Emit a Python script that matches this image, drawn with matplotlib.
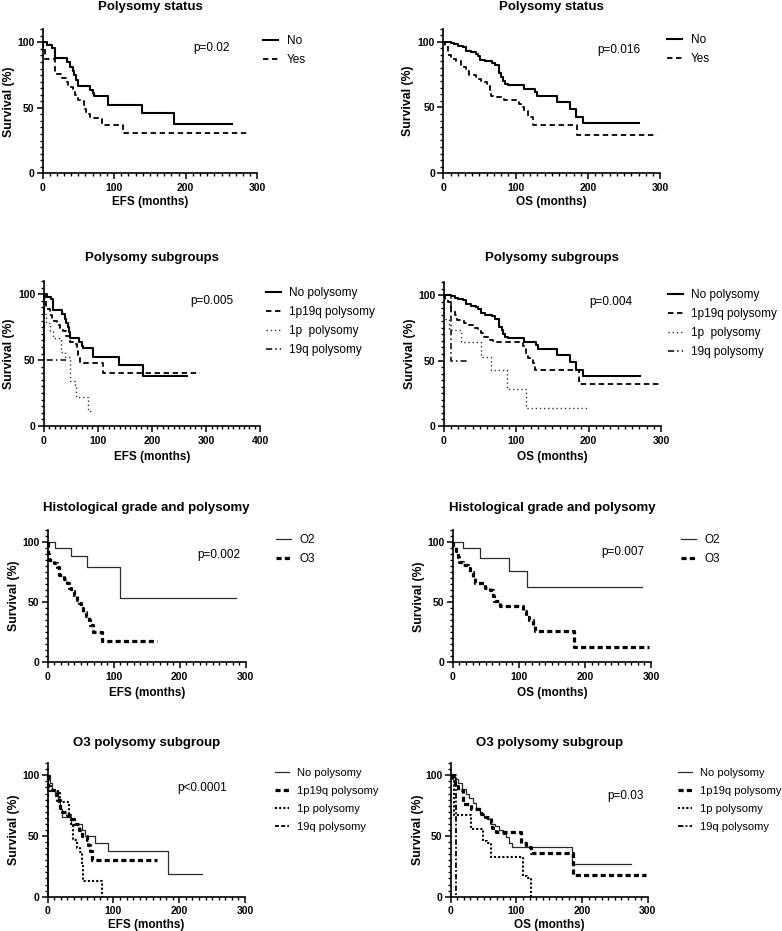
import matplotlib
matplotlib.use("Agg")
import matplotlib.pyplot as plt
from matplotlib.ticker import MultipleLocator

plt.rcParams['font.family'] = ['Liberation Sans', 'DejaVu Sans']

W, H = 782, 931

# ---------- data (months, survival %) ----------
# Polysomy status, EFS
efs_no_t = [0, 6, 13, 18, 34, 39, 42, 44, 47, 49, 66, 70, 72, 91, 139, 183]
efs_no_s = [100, 98, 96, 88, 85, 81, 78, 75, 71, 67, 64, 61, 59, 52, 46, 38]
efs_no_end = 264
efs_yes_t = [0, 1, 4, 18, 27, 34, 36, 42, 46, 49, 58, 61, 67, 83, 112]
efs_yes_s = [100, 95, 87, 76, 73, 70, 66, 63, 60, 56, 49, 45, 42, 37, 31]
efs_yes_end = 287

# Polysomy status, OS
os_no_t = [0, 10, 15, 20, 27, 31, 38, 45, 48, 51, 57, 67, 71, 77, 80, 82, 85, 89,
           111, 127, 130, 157, 175, 183, 193]
os_no_s = [100, 99, 98, 97, 96, 93, 92, 91, 89, 86, 85, 84, 82, 76, 73, 70, 68, 67,
           64, 62, 59, 54, 49, 43, 38]
os_no_end = 271
os_yes_t = [0, 2, 6, 11, 18, 24, 31, 35, 45, 52, 60, 64, 66, 74, 84, 105, 107, 112,
            117, 124, 185]
os_yes_s = [100, 97, 90, 87, 85, 81, 78, 75, 72, 69, 67, 62, 59, 58, 56, 53, 50, 47,
            43, 37, 29]
os_yes_end = 296

# Polysomy subgroups, EFS (no polysomy = efs_no)
efs_1p19q_t = [0, 2, 5, 12, 15, 24, 30, 36, 42, 49, 56, 61, 64, 67, 110]
efs_1p19q_s = [100, 95, 89, 84, 80, 77, 74, 72, 68, 64, 62, 57, 53, 48, 40]
efs_1p19q_end = 288
efs_1p_t = [0, 1, 5, 12, 18, 32, 39, 49, 57, 60, 82]
efs_1p_s = [100, 85, 78, 72, 67, 56, 52, 34, 31, 22, 11]
efs_1p_end = 90
efs_19q_t = [0, 0.5]
efs_19q_s = [100, 50]
efs_19q_end = 42

# Polysomy subgroups, OS (no polysomy = os_no)
os_1p19q_t = [0, 2, 6, 10, 15, 19, 28, 35, 40, 47, 52, 56, 64, 68, 109, 114, 117,
              123, 126, 187]
os_1p19q_s = [100, 97, 95, 88, 85, 81, 79, 77, 75, 73, 71, 68, 66, 64, 61, 55, 52,
              48, 43, 32]
os_1p19q_end = 298
os_1p_t = [0, 1, 8, 24, 52, 65, 87, 113]
os_1p_s = [100, 82, 73, 64, 53, 43, 28, 14]
os_1p_end = 201
os_19q_t = [0, 10]
os_19q_s = [100, 50]
os_19q_end = 34

# Histological grade, EFS
efs_o2_t = [0, 11, 35, 59, 110]
efs_o2_s = [100, 95, 88, 79, 53]
efs_o2_end = 286
efs_o3_t = [0, 1, 2, 9, 14, 17, 25, 29, 32, 36, 40, 44, 48, 50, 54, 58, 62, 64, 68,
            82]
efs_o3_s = [100, 90, 85, 82, 79, 72, 69, 66, 62, 59, 56, 52, 49, 45, 42, 38, 35, 31,
            25, 18]
efs_o3_end = 165

# Histological grade, OS
os_o2_t = [0, 15, 42, 85, 113]
os_o2_s = [100, 95, 87, 76, 63]
os_o2_end = 286
os_o3_t = [0, 1, 5, 8, 10, 15, 23, 26, 30, 33, 49, 57, 61, 63, 72, 107, 111, 115,
           121, 125, 184]
os_o3_s = [100, 96, 93, 88, 84, 81, 79, 75, 70, 66, 62, 60, 55, 51, 47, 43, 38, 35,
           31, 26, 13]
os_o3_end = 297

# O3 polysomy subgroup, EFS
o3e_no_t = [0, 3, 6, 11, 15, 18, 21, 35, 52, 57, 72, 92, 183]
o3e_no_s = [100, 94, 89, 83, 78, 72, 66, 60, 55, 50, 44, 38, 19]
o3e_no_end = 235
o3e_1p19q_t = [0, 1, 4, 11, 14, 18, 21, 29, 37, 40, 48, 52, 59, 62, 64, 67]
o3e_1p19q_s = [100, 91, 88, 86, 80, 73, 70, 67, 64, 60, 55, 50, 47, 43, 38, 30]
o3e_1p19q_end = 166
o3e_1p_t = [0, 1, 19, 32, 35, 39, 44, 49, 52, 54, 82]
o3e_1p_s = [100, 87, 78, 66, 58, 47, 40, 37, 25, 13, 0]
o3e_1p_end = 82
o3e_19q_t = [0, 1]
o3e_19q_s = [100, 0]
o3e_19q_end = 1

# O3 polysomy subgroup, OS
o3o_no_t = [0, 6, 11, 17, 23, 28, 34, 39, 44, 50, 56, 61, 68, 74, 79, 84, 89, 94,
            184]
o3o_no_s = [100, 97, 94, 89, 85, 81, 77, 73, 68, 66, 64, 60, 58, 55, 52, 49, 44, 41,
            27]
o3o_no_end = 274
o3o_1p19q_t = [0, 2, 6, 11, 18, 31, 46, 52, 61, 63, 69, 107, 115, 122, 186]
o3o_1p19q_s = [100, 95, 91, 88, 76, 72, 68, 66, 61, 57, 53, 44, 41, 36, 18]
o3o_1p19q_end = 297
o3o_1p_t = [0, 5, 31, 49, 56, 61, 110, 116, 122]
o3o_1p_s = [100, 67, 56, 46, 44, 33, 17, 15, 0]
o3o_1p_end = 122
o3o_19q_t = [0, 8]
o3o_19q_s = [100, 0]
o3o_19q_end = 8

# ---------- styles ----------
SOLID = dict(color='black', lw=1.5, ls='-')
THIN = dict(color='#2b2b2b', lw=0.9, ls='-')
DASH = dict(color='black', lw=1.3, ls=(0, (3, 2)))
DOT = dict(color='#333333', lw=1.0, ls=(0, (1, 2)))
DASHDOT = dict(color='black', lw=1.1, ls=(0, (4, 2, 1, 2)))
THICKDASH = dict(color='black', lw=2.3, ls=(0, (1.6, 1.0)))
MEDDOT = dict(color='black', lw=1.5, ls=(0, (1, 1)))
SHORTDASH = dict(color='black', lw=1.3, ls=(0, (2.2, 1.2)))
DASHDOT2 = dict(color='black', lw=1.3, ls=(0, (3, 1.2, 1, 1.2)))

# panels: (axes box in px: left, right, y0, y110), xmax, xlabel, title,
#         p text, p position, legend x px, legend first row y px,
#         legend font size, legend row spacing, curves
panels = [
    ((42.5, 257.3, 173.3, 29.3), 300, "EFS (months)", "Polysomy status",
     "p=0.02", (210, 95.6), 263, 39, 8.5, 0.6,
     [(efs_no_t, efs_no_s, efs_no_end, "No", SOLID),
      (efs_yes_t, efs_yes_s, efs_yes_end, "Yes", DASH)]),
    ((443.3, 660.3, 173.3, 28.5), 300, "OS (months)", "Polysomy status",
     "p=0.016", (213, 93.7), 667, 38, 8.5, 0.6,
     [(os_no_t, os_no_s, os_no_end, "No", SOLID),
      (os_yes_t, os_yes_s, os_yes_end, "Yes", DASH)]),
    ((43.7, 260.3, 426, 281), 400, "EFS (months)", "Polysomy subgroups",
     "p=0.005", (270, 95), 265.7, 291, 8.5, 0.6,
     [(efs_no_t, efs_no_s, efs_no_end, "No polysomy", SOLID),
      (efs_1p19q_t, efs_1p19q_s, efs_1p19q_end, "1p19q polysomy", DASH),
      (efs_1p_t, efs_1p_s, efs_1p_end, "1p  polysomy", DOT),
      (efs_19q_t, efs_19q_s, efs_19q_end, "19q polysomy", DASHDOT)]),
    ((443.7, 661, 426, 282), 300, "OS (months)", "Polysomy subgroups",
     "p=0.004", (200.6, 95), 667.7, 292.7, 8.5, 0.6,
     [(os_no_t, os_no_s, os_no_end, "No polysomy", SOLID),
      (os_1p19q_t, os_1p19q_s, os_1p19q_end, "1p19q polysomy", DASH),
      (os_1p_t, os_1p_s, os_1p_end, "1p  polysomy", DOT),
      (os_19q_t, os_19q_s, os_19q_end, "19q polysomy", DASHDOT)]),
    ((47.7, 245.7, 662.3, 529.6), 300, "EFS (months)",
     "Histological grade and polysomy", "p=0.002", (226, 89), 276, 538.3, 8.5, 0.6,
     [(efs_o2_t, efs_o2_s, efs_o2_end, "O2", THIN),
      (efs_o3_t, efs_o3_s, efs_o3_end, "O3", THICKDASH)]),
    ((452.7, 651, 662.3, 530.3), 300, "OS (months)",
     "Histological grade and polysomy", "p=0.007", (225, 92), 681, 538.3, 8.5, 0.6,
     [(os_o2_t, os_o2_s, os_o2_end, "O2", THIN),
      (os_o3_t, os_o3_s, os_o3_end, "O3", THICKDASH)]),
    ((47.7, 245, 896.7, 763.2), 300, "EFS (months)", "O3 polysomy subgroup",
     "p<0.0001", (197.6, 89.3), 275, 771.7, 8.0, 0.73,
     [(o3e_no_t, o3e_no_s, o3e_no_end, "No polysomy", THIN),
      (o3e_1p19q_t, o3e_1p19q_s, o3e_1p19q_end, "1p19q polysomy", THICKDASH),
      (o3e_1p_t, o3e_1p_s, o3e_1p_end, "1p polysomy", MEDDOT),
      (o3e_19q_t, o3e_19q_s, o3e_19q_end, "19q polysomy", SHORTDASH)]),
    ((450.7, 647.7, 896.7, 763.2), 300, "OS (months)", "O3 polysomy subgroup",
     "p=0.03", (239, 83), 677.7, 771.7, 8.0, 0.73,
     [(o3o_no_t, o3o_no_s, o3o_no_end, "No polysomy", THIN),
      (o3o_1p19q_t, o3o_1p19q_s, o3o_1p19q_end, "1p19q polysomy", THICKDASH),
      (o3o_1p_t, o3o_1p_s, o3o_1p_end, "1p polysomy", MEDDOT),
      (o3o_19q_t, o3o_19q_s, o3o_19q_end, "19q polysomy", DASHDOT2)]),
]

title_y = [7, 7, 258, 258, 508, 508, 743, 743]
xlabel_y = [202, 202, 457, 457, 693, 693, 925, 925]
ylabel_x = [9, 408, 9, 410, 14, 419, 14, 418]

fig = plt.figure(figsize=(W / 100, H / 100), dpi=100)

for i, (box, xmax, xlab, title, ptxt, ppos, lgx, lgy, lgfs, lgsp,
        curves) in enumerate(panels):
    l, r, y0, ytop = box
    ax = fig.add_axes([l / W, 1 - y0 / H, (r - l) / W, (y0 - ytop) / H])
    handles = []
    for t, s, end, lab, st in curves:
        ln, = ax.step(t + [end], s + [s[-1]], where='post', clip_on=False,
                      label=lab, **st)
        handles.append(ln)
    ax.set_xlim(0, xmax)
    ax.set_ylim(0, 110)
    for side in ('top', 'right'):
        ax.spines[side].set_visible(False)
    for side in ('left', 'bottom'):
        ax.spines[side].set_linewidth(1.2)
    ax.xaxis.set_major_locator(MultipleLocator(100))
    ax.xaxis.set_minor_locator(MultipleLocator(10))
    ax.yaxis.set_major_locator(MultipleLocator(50))
    ax.yaxis.set_minor_locator(MultipleLocator(5))
    ax.tick_params(which='major', length=4, width=1.1, pad=2)
    ax.tick_params(which='minor', length=2.5, width=1.0)
    ax.tick_params(axis='x', which='major', pad=3)
    for lbl in ax.get_xticklabels() + ax.get_yticklabels():
        lbl.set_fontweight('bold')
        lbl.set_fontsize(7.5)
    ax.set_xlabel(xlab, fontsize=8.5, fontweight='bold', va='center')
    ax.xaxis.set_label_coords(0.5, -(xlabel_y[i] - y0) / (y0 - ytop))
    ax.set_ylabel("Survival (%)", fontsize=8.8, fontweight='bold', va='center')
    ax.yaxis.set_label_coords(-(l - ylabel_x[i]) / (r - l), 0.5)
    ax.text(ppos[0], ppos[1], ptxt, fontsize=8.5, ha='left', va='center')
    fig.text((l + r) / 2 / W, 1 - title_y[i] / H, title, fontsize=9.5,
             fontweight='bold', ha='center', va='center')
    ax.legend(handles=handles, loc='upper left',
              bbox_to_anchor=(lgx / W, 1 - (lgy - 4) / H),
              bbox_transform=fig.transFigure, frameon=False, borderpad=0,
              borderaxespad=0, handlelength=1.3, handletextpad=0.7,
              labelspacing=lgsp, fontsize=lgfs)

fig.savefig("out.png", dpi=100)
